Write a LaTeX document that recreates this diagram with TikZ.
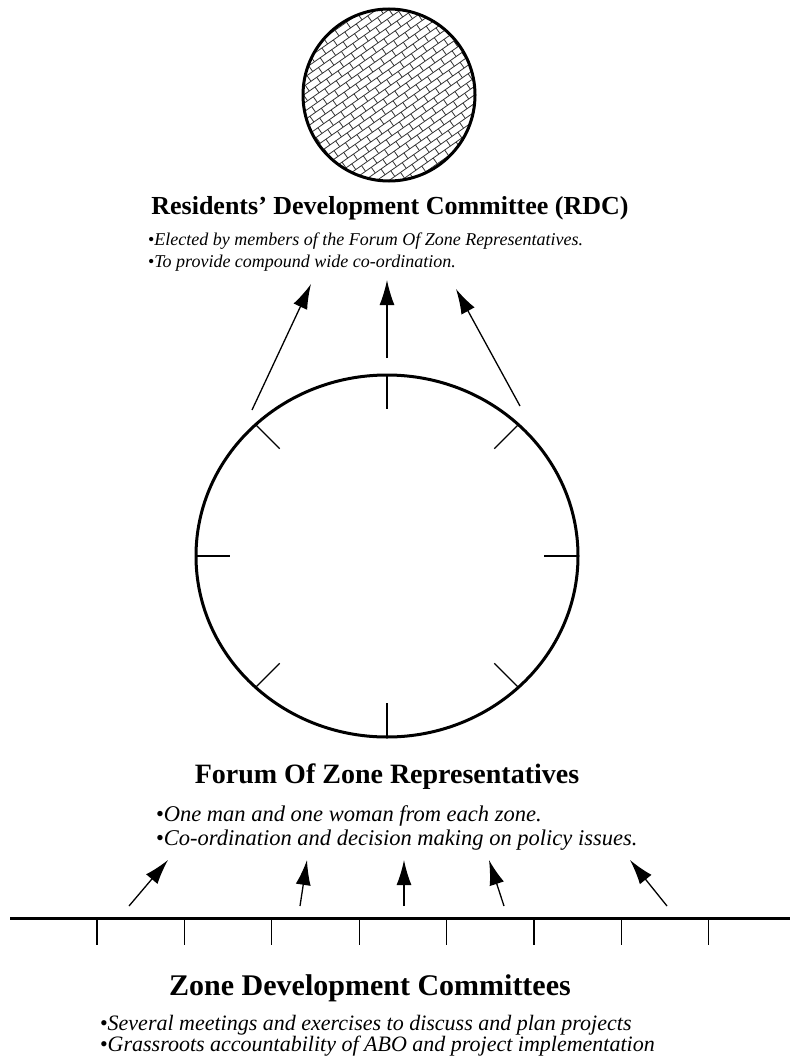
\documentclass[tikz,border=0pt]{standalone}
\usepackage{fontspec}
\setmainfont{Liberation Serif}
\usetikzlibrary{arrows.meta,shapes.geometric,calc,positioning}

\begin{document}
\begin{tikzpicture}[x=1pt,y=-1pt,>={Latex[length=25pt,width=15pt]},semithick]
		\tikzstyle{every node}=[inner sep=0pt,outer sep=0pt]
		\tikzstyle{title}=[anchor=base,font=\bfseries\fontsize{28}{28}\selectfont]
		\tikzstyle{point}=[anchor=base west,font=\itshape\fontsize{22.5}{22.5}\selectfont]
		\tikzstyle{tick}=[line width=1.2pt]
		\tikzstyle{up}=[->,line width=1.3pt]
		\tikzstyle{bricks}=[path picture={
			\begin{scope}[shift={(path picture bounding box.center)},x={(0.819pt,0.574pt)},y={(-0.574pt,0.819pt)},line width=0.8pt,black!80]
				\foreach \i in {-14,...,14} {
					\draw (-120,\i*7) -- (120,\i*7);
					\foreach \j in {-9,...,9}
						\draw ({\j*14+7*mod(\i,2)},\i*7) -- ++(0,7);
				}
			\end{scope}}]

		\useasboundingbox (0,0) rectangle (790,1062);

		% top: the RDC
		\node[circle,draw,line width=3pt,minimum size=172pt,bricks] (rdc) at (389,95) {};
		\node[title,font=\bfseries\fontsize{26}{26}\selectfont] (rdct) at (390,214) {Residents’ Development Committee (RDC)};
		\node[point,font=\itshape\fontsize{18}{18}\selectfont] (rdca) at (148,245) {{\upshape\textbullet}Elected by members of the Forum Of Zone Representatives.};
		\node[point,font=\itshape\fontsize{18}{18}\selectfont] (rdcb) at (148,267) {{\upshape\textbullet}To provide compound wide co-ordination.};

		% middle: the forum
		\node[ellipse,draw,line width=3pt,minimum width=382pt,minimum height=362pt] (forum) at (387,556) {};
		\foreach \a in {0,45,...,315}
			\draw[tick] (forum.\a) -- ($(forum.\a)!34pt!(forum.center)$);

		\coordinate (l0) at (252,410);
		\coordinate (l1) at (311,284);
		\coordinate (m0) at (387,358);
		\coordinate (m1) at (387,280);
		\coordinate (r0) at (520,406);
		\coordinate (r1) at (456,289);
		\draw[up] (l0) -- (l1);
		\draw[up] (m0) -- (m1);
		\draw[up] (r0) -- (r1);

		\node[title] (forumt) at (387,783) {Forum Of Zone Representatives};
		\node[point] (foruma) at (156,821) {{\upshape\textbullet}One man and one woman from each zone.};
		\node[point] (forumb) at (156,845) {{\upshape\textbullet}Co-ordination and decision making on policy issues.};

		% bottom: the zones
		\coordinate (zw) at (10,918);
		\coordinate (ze) at (790,918);
		\draw[line width=3pt] (zw) -- (ze);
		\foreach \k in {0,...,7}
			\draw[tick] ($(zw)+(87+87.4*\k,0)$) -- ++(0,27);

		\coordinate (z1a) at (129,906);
		\coordinate (z1b) at (168,860);
		\coordinate (z2a) at (300,906);
		\coordinate (z2b) at (307,860);
		\coordinate (z3a) at (404,906);
		\coordinate (z3b) at (404,860);
		\coordinate (z4a) at (504,906);
		\coordinate (z4b) at (489,860);
		\coordinate (z5a) at (667,906);
		\coordinate (z5b) at (630,860);
		\foreach \n in {1,...,5}
			\draw[up] (z\n a) -- (z\n b);

		\node[title,font=\bfseries\fontsize{30}{30}\selectfont] (zonet) at (370,995) {Zone Development Committees};
		\node[point,font=\itshape\fontsize{22}{22}\selectfont] (zonea) at (100,1030) {{\upshape\textbullet}Several meetings and exercises to discuss and plan projects};
		\node[point,font=\itshape\fontsize{22}{22}\selectfont] (zoneb) at (100,1051) {{\upshape\textbullet}Grassroots accountability of ABO and project implementation};
	\end{tikzpicture}
\end{document}
